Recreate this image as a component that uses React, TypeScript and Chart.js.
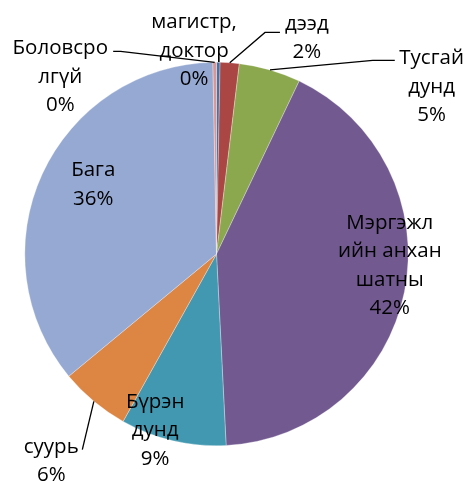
import React, { useEffect, useRef } from "react";
import { Chart, registerables } from "chart.js";

Chart.register(...registerables);

const categories = [
  "магистр, доктор",
  "дээд",
  "Тусгай дунд",
  "Мэргэжлийн анхан шатны",
  "Бүрэн дунд",
  "суурь",
  "Бага",
  "Боловсролгүй",
];
const shares = [0.3, 1.6, 5.2, 42.1, 8.9, 5.9, 35.7, 0.3];
const labelLines = [
  ["магистр,", "доктор"],
  ["дээд"],
  ["Тусгай", "дунд"],
  ["Мэргэжл", "ийн анхан", "шатны"],
  ["Бүрэн", "дунд"],
  ["суурь"],
  ["Бага"],
  ["Боловсро", "лгүй"],
];
const sliceColors = [
  "#4572A7",
  "#AA4644",
  "#8CA84F",
  "#725A90",
  "#4298B0",
  "#DD8543",
  "#95A9D2",
  "#D99795",
];

// label placement, in units of the pie radius, relative to the pie centre
// text: first-line centre; leader: optional [elbow, end] points
type Layout = { tx: number; ty: number; leader?: number[][] };
const labelLayout: Layout[] = [
  { tx: -0.117, ty: -1.208 },
  { tx: 0.471, ty: -1.2, leader: [[0.253, -1.156], [0.331, -1.156]] },
  { tx: 1.122, ty: -1.021, leader: [[0.815, -1.01], [0.93, -1.01]] },
  { tx: 0.904, ty: -0.161 },
  { tx: -0.32, ty: 0.771 },
  { tx: -0.862, ty: 1.005, leader: [[-0.7, 1.02], [-0.7, 1.02]] },
  { tx: -0.643, ty: -0.437 },
  { tx: -0.815, ty: -1.073, leader: [[-0.5, -1.057], [-0.539, -1.057]] },
];

const FONT = "20.5px 'Open Sans'";
const LINE_H = 28.5;

const labelPlugin = {
  id: "sliceLabels",
  afterDatasetsDraw(chart: any) {
    const ctx = chart.ctx;
    const meta = chart.getDatasetMeta(0);
    const data = chart.data.datasets[0].data as number[];
    const total = data.reduce((a, b) => a + b, 0);
    ctx.save();
    meta.data.forEach((arc: any, i: number) => {
      const { x, y, startAngle, endAngle, outerRadius } = arc.getProps(
        ["x", "y", "startAngle", "endAngle", "outerRadius"],
        true
      );
      const r = outerRadius;
      const lay = labelLayout[i];
      if (lay.leader) {
        const mid = (startAngle + endAngle) / 2;
        ctx.beginPath();
        ctx.strokeStyle = "#000";
        ctx.lineWidth = 1.3;
        ctx.moveTo(x + Math.cos(mid) * r, y + Math.sin(mid) * r);
        lay.leader.forEach((p) => ctx.lineTo(x + p[0] * r, y + p[1] * r));
        ctx.stroke();
      }
      const pct = Math.round((data[i] / total) * 100) + "%";
      const lines = [...labelLines[i], pct];
      ctx.font = FONT;
      ctx.fillStyle = "#000";
      ctx.textAlign = "center";
      ctx.textBaseline = "middle";
      lines.forEach((t, k) => {
        ctx.fillText(t, x + lay.tx * r, y + lay.ty * r + k * LINE_H);
      });
    });
    ctx.restore();
  },
};

export default function App() {
  const ref = useRef<HTMLCanvasElement>(null);
  useEffect(() => {
    document.body.style.margin = "0";
    const chart = new Chart(ref.current as HTMLCanvasElement, {
      type: "pie",
      data: {
        labels: categories,
        datasets: [
          {
            data: shares,
            backgroundColor: sliceColors,
            borderColor: "rgba(255,255,255,0.5)",
            borderWidth: 0.6,
          },
        ],
      },
      options: {
        animation: false,
        responsive: false,
        layout: { padding: { left: 24.5, right: 58.5, top: 62, bottom: 35 } },
        plugins: {
          legend: { display: false },
          tooltip: { enabled: false },
        },
      },
      plugins: [labelPlugin],
    });
    return () => chart.destroy();
  }, []);
  return (
    <div style={{ position: "fixed", left: 0, top: 0, width: 467, height: 481, background: "#fff" }}>
      <canvas ref={ref} width={467} height={481} />
    </div>
  );
}
